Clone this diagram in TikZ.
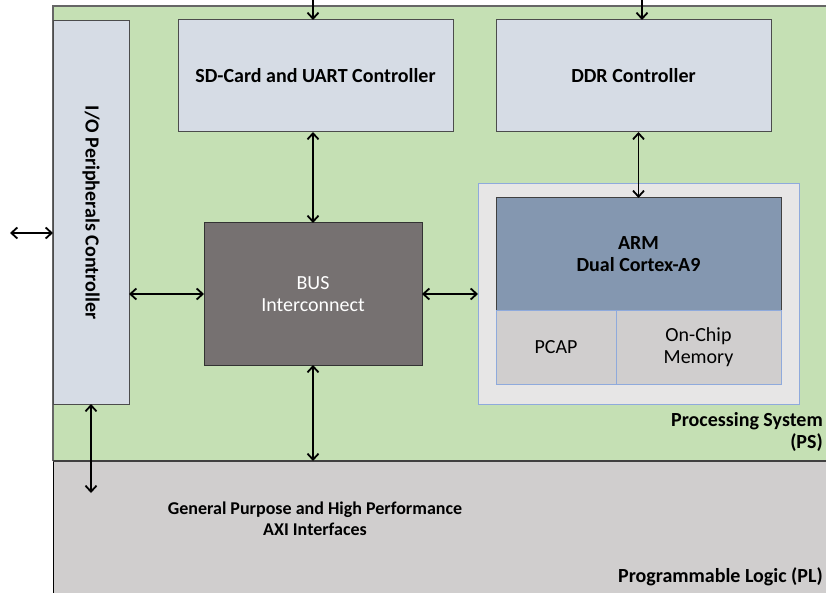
\documentclass[tikz,border=0pt]{standalone}
\usepackage{fontspec}
\setmainfont{Carlito}
\usepackage{xcolor}
\usetikzlibrary{arrows.meta}

\definecolor{psgreen}{HTML}{C5E0B4}
\definecolor{ctrlblue}{HTML}{D6DCE5}
\definecolor{busgray}{HTML}{767171}
\definecolor{armblue}{HTML}{8497B0}
\definecolor{plgray}{HTML}{D0CECE}
\definecolor{cpugray}{HTML}{E7E6E6}
\definecolor{edgeblue}{HTML}{8FAADC}

\begin{document}
\begin{tikzpicture}[x=1pt,y=-1pt,
		blk/.style={anchor=north west, inner sep=0pt, outer sep=0pt, align=center, font=\fontsize{20}{22.5}\selectfont},
		ctrl/.style={blk, fill=ctrlblue, draw=black!70, line width=1pt, font=\fontsize{20}{22.5}\selectfont\bfseries},
		part/.style={blk, fill=plgray, draw=edgeblue, line width=0.8pt},
		lbl/.style={inner sep=0pt, font=\fontsize{20}{22.5}\selectfont\bfseries},
		dbl/.style={{Straight Barb[length=6pt,width=11pt]}-{Straight Barb[length=6pt,width=11pt]}, line width=1.8pt},
		sgl/.style={-{Straight Barb[length=6pt,width=11pt]}, line width=1.8pt}]

		\useasboundingbox (0,0) rectangle (826,593);

		% the two regions
		\node[blk, fill=psgreen, minimum width=790, minimum height=455] (ps) at (53,6) {};
		\node[blk, fill=plgray, minimum width=790, minimum height=132] (pl) at (53,461) {};
		\draw[black!60, line width=1.2pt] (ps.south west) -- (ps.north west) -- (ps.north east);
		\draw[black, line width=1pt] (pl.north west) -- (pl.south west);
		\draw[black!75, line width=2pt] (pl.north west) -- (pl.north east);

		% controllers
		\node[ctrl, minimum width=76, minimum height=383,
			label={[lbl, rotate=-90]center:I/O Peripherals Controller}] (io) at (53,21) {};
		\node[ctrl, minimum width=275, minimum height=112] (sd) at (178,20) {SD-Card and UART Controller};
		\node[ctrl, minimum width=275, minimum height=112] (ddr) at (496,20) {DDR Controller};

		\node[blk, fill=busgray, draw=black!80, line width=1pt, text=white, minimum width=218, minimum height=142] (bus) at (204,223) {BUS\\Interconnect};

		% processor group
		\node[blk, fill=cpugray, draw=edgeblue, line width=0.8pt, minimum width=321, minimum height=221] (cpu) at (478,183) {};
		\node[blk, fill=armblue, draw=black!75, line width=1pt, font=\fontsize{20}{22.5}\selectfont\bfseries, minimum width=285, minimum height=112] (arm) at (496,198) {ARM\\Dual Cortex-A9};
		\node[part, minimum width=120, minimum height=74] (pcap) at (496,310) {PCAP};
		\node[part, minimum width=165, minimum height=74] (ocm) at (616,310) {On-Chip\\Memory};

		% texts
		\node[lbl, anchor=north east, align=right] (pstext) at (823,412) {Processing System\\(PS)};
		\node[lbl, anchor=east] (pltext) at (823,577) {Programmable Logic (PL)};
		\node[lbl, align=center, font=\fontsize{18}{21}\selectfont\bfseries] (axi) at (315,519) {General Purpose and High Performance\\AXI Interfaces};

		% connectors
		\coordinate (sdin) at (313,0);
		\coordinate (ddrin) at (642,0);
		\coordinate (ext) at (10,233);
		\coordinate (ioout) at (91,493);

		\draw[sgl] (sdin) -- (sdin |- sd.north);
		\draw[sgl] (ddrin) -- (ddrin |- ddr.north);
		\draw[dbl] (ext) -- (io.west |- ext);
		\draw[dbl] (io.south) -- (ioout);
		\draw[dbl] (bus.north |- sd.south) -- (bus.north);
		\draw[dbl] (io.east |- bus.west) -- (bus.west);
		\draw[dbl] (bus.east) -- (cpu.west |- bus.east);
		\draw[dbl] (bus.south) -- (bus.south |- pl.north);
		\draw[dbl] (arm.north |- ddr.south) -- (arm.north);

\end{tikzpicture}
\end{document}
